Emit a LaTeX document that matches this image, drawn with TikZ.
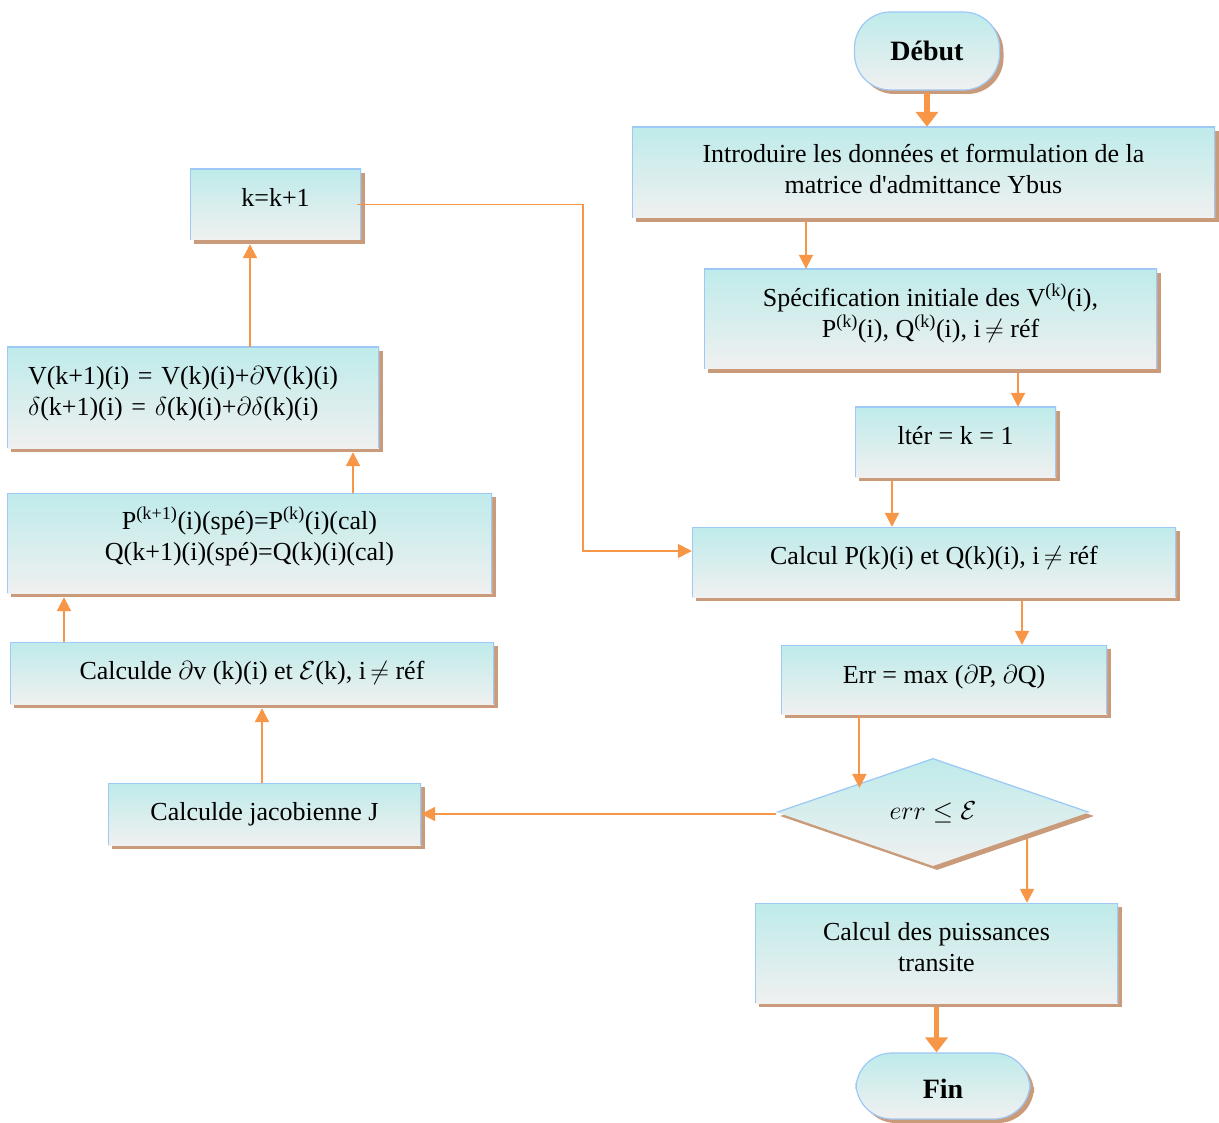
\documentclass[tikz,border=0pt]{standalone}
\usepackage{fix-cm}
\usepackage{fontspec}
\setmainfont{Liberation Serif}
\usetikzlibrary{shadows,arrows.meta,shapes.geometric}

\definecolor{flowtop}{HTML}{BEEBEA}
\definecolor{flowbot}{HTML}{F0F0F0}
\definecolor{flowedge}{HTML}{9EC8F5}
\definecolor{flowshadow}{HTML}{C99B7B}
\definecolor{flowarrow}{HTML}{F79646}

\tikzset{
  base/.style={top color=flowtop, bottom color=flowbot,
    drop shadow={shadow xshift=4pt, shadow yshift=-4pt, fill=flowshadow, opacity=1},
    font=\fontsize{26}{31}\selectfont, align=center, inner sep=0pt},
  % rectangles: light blue rim on top, left and right only
  procbox/.style={base, rectangle, draw=none,
    path picture={\draw[flowedge, line width=2.4pt]
      (path picture bounding box.south west) -- (path picture bounding box.north west)
      -- (path picture bounding box.north east) -- (path picture bounding box.south east);}},
  termbox/.style={base, rectangle, draw=flowedge, line width=1.2pt, rounded corners=36pt,
    font=\fontsize{28}{32}\selectfont\bfseries},
  % decision: rim on the two upper edges
  testbox/.style={base, diamond, aspect=2.9, draw=none,
    path picture={\draw[flowedge, line width=2.4pt]
      (path picture bounding box.west) -- (path picture bounding box.north)
      -- (path picture bounding box.east);}},
  % extra depth on the last line lifts the text inside its box
  lift/.style={execute at end node={\rule[-#1]{0pt}{#1}}},
  sink/.style={execute at begin node={\rule{0pt}{#1}}},
  flow/.style={draw=flowarrow, line width=2pt, -{Triangle[width=14pt,length=14pt]}},
  bigflow/.style={draw=flowarrow, line width=5.5pt, -{Triangle[width=22pt,length=15pt]}},
  loopflow/.style={draw=flowarrow, line width=1.5pt, -{Triangle[width=14pt,length=14pt]}},
}

\begin{document}
\begin{tikzpicture}[x=1pt,y=-1pt]
\useasboundingbox (0,0) rectangle (1219,1123);

% right column: main sequence
\node[termbox, minimum width=145, minimum height=78] (debut) at (927,51) {Début};
\node[procbox, lift=8pt, minimum width=583, minimum height=91] (intro) at (923.5,172.5)
  {Introduire les données et formulation de la\\ matrice d\textquotesingle admittance Ybus};
\node[procbox, lift=17pt, minimum width=453, minimum height=100] (spec) at (930.5,319)
  {Spécification initiale des V\textsuperscript{(k)}(i),\\ P\textsuperscript{(k)}(i), Q\textsuperscript{(k)}(i), i\,$\neq$ réf};
\node[procbox, lift=14pt, minimum width=201, minimum height=70] (iter) at (955.5,442) {ltér = k = 1};
\node[procbox, lift=14pt, minimum width=484, minimum height=70] (calc) at (934,562)
  {Calcul P(k)(i) et Q(k)(i), i\,$\neq$ réf};
\node[procbox, lift=11pt, minimum width=326, minimum height=69] (err) at (944,679.5)
  {Err = max ($\partial$P, $\partial$Q)};
\node[testbox, minimum width=314, minimum height=108] (test) at (933,812) {$err \leq \mathcal{E}$};
\node[procbox, lift=12pt, minimum width=363, minimum height=100] (puiss) at (936.5,953)
  {Calcul des puissances\\ transite};
\node[termbox, sink=24pt, minimum width=174, minimum height=66] (fin) at (943,1086) {Fin};

% left column: correction loop
\node[procbox, lift=14pt, minimum width=171, minimum height=71] (kk) at (275.5,204.5) {k=k+1};
\node[procbox, lift=14pt, minimum width=372, minimum height=101, text width=330, align=left] (upd) at (193,397.5)
  {V(k+1)(i) = V(k)(i)+$\partial$V(k)(i)\\ $\delta$(k+1)(i) = $\delta$(k)(i)+$\partial\delta$(k)(i)};
\node[procbox, lift=19pt, minimum width=485, minimum height=100] (pq) at (249.5,543)
  {P\textsuperscript{(k+1)}(i)(spé)=P\textsuperscript{(k)}(i)(cal)\\ Q(k+1)(i)(spé)=Q(k)(i)(cal)};
\node[procbox, minimum width=484, minimum height=62] (dv) at (252,673)
  {Calculde $\partial$v (k)(i) et $\mathcal{E}$(k), i\,$\neq$ réf};
\node[procbox, minimum width=313, minimum height=62] (jac) at (264.5,814) {Calculde jacobienne J};

% corner and entry point of the return line
\coordinate (bend) at (583,204.5);
\coordinate (entry) at ([yshift=11pt]calc.west);

% connectors of the main sequence
\draw[bigflow, shorten <=2pt] (debut.south) -- (debut.south |- intro.north);
\draw[flow, shorten <=4pt] ([xshift=-117.5pt]intro.south) -- ([xshift=-124.5pt]spec.north);
\draw[flow, shorten <=4pt] ([xshift=87.5pt]spec.south) -- ([xshift=62.5pt]iter.north);
\draw[flow, shorten <=4pt] ([xshift=-63.5pt]iter.south) -- ([xshift=-42pt]calc.north);
\draw[flow, shorten <=4pt] ([xshift=88pt]calc.south) -- ([xshift=78pt]err.north);
\draw[flow, shorten <=2pt] ([xshift=5pt]err.south -| test.north west) -- ([xshift=5pt,yshift=-3pt]test.north west);
\draw[flow] ([xshift=15.5pt]test.south east) -- ([xshift=90.5pt]puiss.north);
\draw[bigflow, shorten <=4pt] (puiss.south) -- (puiss.south |- fin.north);

% connectors of the correction loop
\draw[flow] ([yshift=-2pt]test.west) -- ([yshift=-2pt]test.west -| jac.east);
\draw[flow] ([xshift=-2.5pt]jac.north) -- ([xshift=10pt,yshift=-4pt]dv.south);
\draw[flow] ([xshift=-188pt]dv.north) -- ([xshift=-185.5pt,yshift=-4pt]pq.south);
\draw[flow] ([xshift=103.5pt]pq.north) -- ([xshift=160pt,yshift=-4pt]upd.south);
\draw[flow] ([xshift=57pt]upd.north) -- ([xshift=-25.5pt,yshift=-4pt]kk.south);
\draw[loopflow] ([xshift=-4pt]kk.east) -- (bend) -- (bend |- entry) -- (entry);
\end{tikzpicture}
\end{document}
